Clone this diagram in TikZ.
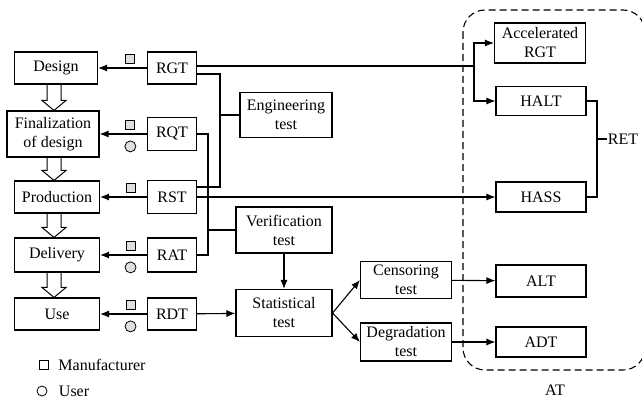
\documentclass[tikz,border=0pt]{standalone}
\usepackage{fontspec}
\setmainfont{Liberation Serif}
\usetikzlibrary{positioning, arrows.meta, calc}

\begin{document}
\begin{tikzpicture}[x=1pt,y=-1pt,>={Latex[length=9pt,width=7pt]},line width=1.1pt,
	font=\fontsize{16}{19}\selectfont,
	box/.style={draw, align=center, inner sep=1pt, minimum width=#1, minimum height=32pt},
	box/.default=85pt,
	mfr/.style={draw, fill=gray!25, minimum size=9pt, inner sep=0pt, line width=0.8pt},
	usr/.style={circle, draw, fill=gray!25, minimum size=11pt, inner sep=0pt, line width=0.8pt},
	hollow/.style={line width=1pt, line join=miter}]

	\useasboundingbox (0,0) rectangle (642,401);

	% life cycle stages
	\node[box=83pt] (design) at (56,68) {Design};
	\node[box=92pt, minimum height=46pt] (final) at (53,134) {Finalization\\of design};
	\node[box] (prod) at (57,197) {Production};
	\node[box, minimum height=34pt] (deliv) at (57,255) {Delivery};
	\node[box] (use) at (57,314) {Use};

	\foreach \a/\b in {design/final, final/prod, prod/deliv, deliv/use}
		\draw[hollow] let \p1=(\a.south), \p2=(\b.north) in
			(47pt,\y1) -- (47pt,\y2+10pt) -- (42pt,\y2+10pt) -- (54pt,\y2) -- (66pt,\y2+10pt) -- (61pt,\y2+10pt) -- (61pt,\y1);

	% reliability tests
	\node[box=49pt] (rgt) at (172,68) {RGT};
	\node[box=49pt, minimum height=33pt] (rqt) at (172,134) {RQT};
	\node[box=49pt, minimum height=33pt] (rst) at (172,197) {RST};
	\node[box=49pt, minimum height=34pt] (rat) at (172,255) {RAT};
	\node[box=49pt] (rdt) at (172,314) {RDT};

	\draw[->] (rgt) -- node[mfr, pos=0.35, above=4.5pt] (m1) {} (design);
	\draw[->] (rqt) -- node[mfr, pos=0.35, above=4.5pt] (m2) {} node[usr, pos=0.35, below=6.5pt] (u2) {} (final);
	\draw[->] (rst) -- node[mfr, pos=0.35, above=4.5pt] (m3) {} (prod);
	\draw[->] (rat) -- node[mfr, pos=0.35, above=4.5pt] (m4) {} node[usr, pos=0.35, below=6.5pt] (u4) {} (deliv);
	\draw[->] (rdt) -- node[mfr, pos=0.35, above=4.5pt] (m5) {} node[usr, pos=0.35, below=6.5pt] (u5) {} (use);

	\node[box=92pt, minimum height=45pt] (eng) at (286,115) {Engineering\\test};
	\node[box=96pt, minimum height=46pt] (ver) at (284,230) {Verification\\test};
	\node[box=96pt, minimum height=47pt] (stat) at (284,313) {Statistical\\test};
	\node[box=91pt, minimum height=37pt] (cens) at (406,280) {Censoring\\test};
	\node[box=91pt, minimum height=38pt] (deg) at (406,342) {Degradation\\test};

	\coordinate (engx) at (220,115);
	\coordinate (verx) at (208,230);
	\draw ([yshift=-6pt]rgt.east) -| ([yshift=10pt]rst.east -| engx) -- ([yshift=10pt]rst.east);
	\draw (engx) -- (eng.west);
	\draw (rqt.east) -| (verx |- rat.east) -- (rat.east);
	\draw (verx) -- (ver.west);
	\draw[->] (ver) -- (stat);
	\draw[->] (rdt) -- (stat);
	\draw[->] (stat.east) -- (cens.west);
	\draw[->] (stat.east) -- (deg.west);

	% accelerated tests
	\node[box=91pt, minimum height=40pt] (accrgt) at (540,43) {Accelerated\\RGT};
	\node[box=90pt, minimum height=29pt] (halt) at (541,101) {HALT};
	\node[box=90pt, minimum height=30pt] (hass) at (541,197) {HASS};
	\node[box=90pt] (alt) at (541,281) {ALT};
	\node[box=90pt, minimum height=30pt] (adt) at (541,342) {ADT};

	\coordinate (accsplit) at (474,66);
	\draw ([yshift=2pt]rgt.east) -- (accsplit);
	\draw[->] (accsplit) |- (accrgt.west);
	\draw[->] (accsplit) |- (halt.west);
	\draw[->] (rst) -- (hass);
	\draw[->] (cens) -- (alt);
	\draw[->] (deg) -- (adt);

	\node[inner sep=0pt] (ret) at (623,139) {RET};
	\coordinate (retx) at (597,139);
	\draw (halt.east) -| (retx) |- (hass.east);
	\draw (retx) -- (ret.west);

	\draw[dashed, dash pattern=on 7pt off 4pt, rounded corners=22pt] (463,10) rectangle (645,370);
	\node (atlabel) at (555,390) {AT};

	% legend
	\node[mfr, fill=white] (lm) at (44,365) {};
	\node[right=7pt of lm, inner sep=2pt] (lmtext) {Manufacturer};
	\node[usr, fill=white, minimum size=10pt] (lu) at (42,391) {};
	\node[right=9pt of lu, inner sep=2pt] (lutext) {User};

\end{tikzpicture}
\end{document}
